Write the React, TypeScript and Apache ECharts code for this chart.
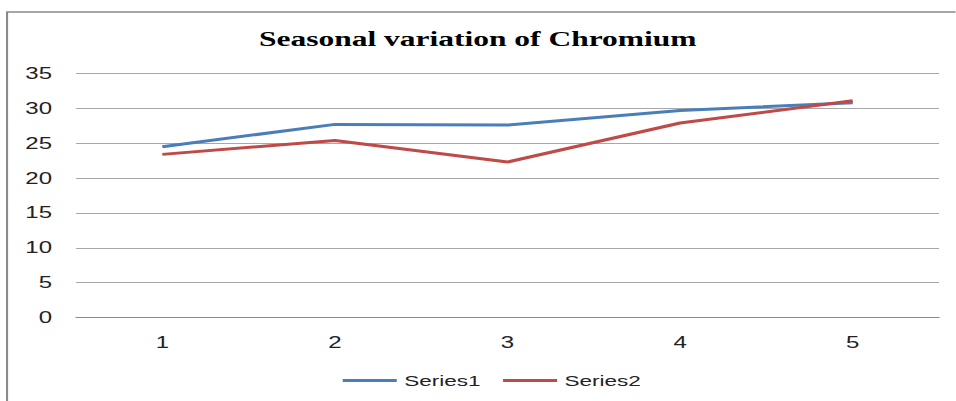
import React, { useEffect, useRef } from "react";
import * as echarts from "echarts";

const categories = ["1", "2", "3", "4", "5"];
const series1 = [24.5, 27.7, 27.6, 29.7, 30.8];
const series2 = [23.4, 25.4, 22.3, 27.9, 31.1];
const seriesNames = ["Series1", "Series2"];
const titleText = "Seasonal variation of Chromium";

const STRETCH = 1.5;
const W = 956;
const H = 401;

export default function App() {
  const ref = useRef<HTMLDivElement>(null);
  useEffect(() => {
    if (!ref.current) return;
    const chart = echarts.init(ref.current, undefined, { renderer: "svg" });
    const label = { fontFamily: "Liberation Sans", fontSize: 16, color: "#222" };
    chart.setOption({
      animation: false,
      backgroundColor: "#fff",
      title: {
        text: titleText,
        left: "center",
        top: 28,
        padding: 0,
        textStyle: { fontFamily: "Liberation Serif", fontWeight: "bold", fontSize: 21, color: "#000" },
      },
      graphic: [
        {
          type: "rect",
          shape: { x: 4.7, y: 12, width: 800, height: 600 },
          style: { fill: "none", stroke: "#8a8a8a", lineWidth: 1.4 },
          silent: true,
        },
      ],
      legend: {
        data: seriesNames,
        left: 228.5,
        top: 373,
        padding: 0,
        icon: "rect",
        itemWidth: 36,
        itemHeight: 3,
        itemGap: 15,
        textStyle: { ...label, fontSize: 15 },
      },
      grid: { left: 50.7, right: 11, top: 73.5, bottom: 83.5, containLabel: false },
      xAxis: {
        type: "category",
        data: categories,
        boundaryGap: true,
        axisLine: { lineStyle: { color: "#8a8a8a", width: 1 } },
        axisTick: { show: false },
        axisLabel: { ...label, margin: 17 },
      },
      yAxis: {
        type: "value",
        min: 0,
        max: 35,
        interval: 5,
        axisLine: { show: false },
        axisTick: { show: false },
        axisLabel: { ...label, margin: 16 },
        splitLine: { lineStyle: { color: "#a8a8a8", width: 1 } },
      },
      series: [
        {
          name: seriesNames[0],
          type: "line",
          data: series1,
          symbol: "none",
          lineStyle: { color: "#4A7EBB", width: 3 },
          itemStyle: { color: "#4A7EBB" },
        },
        {
          name: seriesNames[1],
          type: "line",
          data: series2,
          symbol: "none",
          lineStyle: { color: "#BE4B48", width: 3 },
          itemStyle: { color: "#BE4B48" },
        },
      ],
    });
    return () => chart.dispose();
  }, []);
  return (
    <div style={{ position: "fixed", left: 0, top: 0, width: W, height: H, overflow: "hidden", background: "#fff" }}>
      <div
        ref={ref}
        style={{
          width: W / STRETCH,
          height: H,
          transform: `scaleX(${STRETCH})`,
          transformOrigin: "0 0",
        }}
      />
    </div>
  );
}
